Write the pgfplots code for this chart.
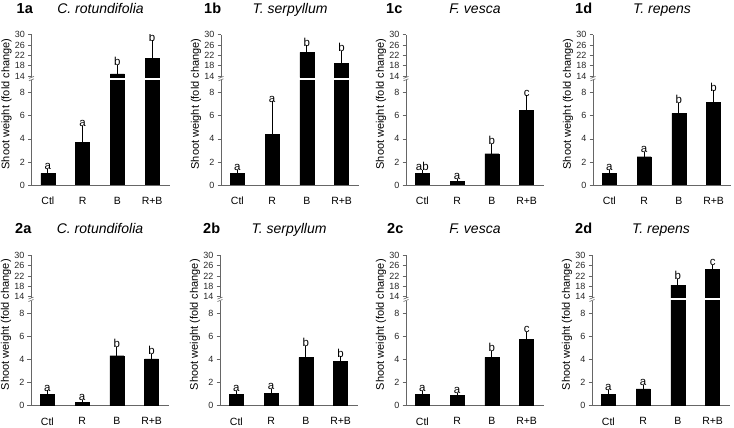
\documentclass[border=0pt]{standalone}
\usepackage{pgfplots}
\pgfplotsset{compat=1.18}
\usepackage{pgfplotstable}
\usepackage{fontspec}
\setmainfont{Liberation Sans}

\pgfplotstableread{
x y e lab
0 1.00 0.20 a
1 3.67 1.30 a
2 14.8 2.60 b
3 20.9 6.10 b
}\tabIa
\pgfplotstableread{
x y e lab
0 1.00 0.10 a
1 4.39 2.69 a
2 23.2 1.90 b
3 18.9 4.10 b
}\tabIb
\pgfplotstableread{
x y e lab
0 1.00 0.10 ab
1 0.29 0.05 a
2 2.71 0.70 b
3 6.50 1.10 c
}\tabIc
\pgfplotstableread{
x y e lab
0 1.00 0.10 a
1 2.45 0.21 a
2 6.21 0.72 b
3 7.17 0.86 b
}\tabId
\pgfplotstableread{
x y e lab
0 1.00 0.15 a
1 0.29 0.06 a
2 4.33 0.58 b
3 4.05 0.25 b
}\tabIIa
\pgfplotstableread{
x y e lab
0 1.00 0.10 a
1 1.07 0.23 a
2 4.19 0.80 b
3 3.85 0.25 b
}\tabIIb
\pgfplotstableread{
x y e lab
0 1.00 0.10 a
1 0.87 0.08 a
2 4.19 0.38 b
3 5.78 0.42 c
}\tabIIc
\pgfplotstableread{
x y e lab
0 1.00 0.20 a
1 1.45 0.20 a
2 18.5 1.60 b
3 24.7 0.90 c
}\tabIId

\pgfplotsset{
 panelbase/.style={scale only axis, width=138pt, xmin=-0.47, xmax=3.5,
   axis y line*=left, axis line style={-, black!60, line width=0.6pt},
   tick style={black!60, line width=0.6pt}, tick align=outside, major tick length=3.5pt,
   yticklabel style={font=\fontsize{9}{10}\selectfont, text=black!85, xshift=0.5pt},
   /pgf/number format/assume math mode=true, clip mode=individual, clip marker paths=true,
   enlargelimits=false},
 lowerax/.style={panelbase, height=105pt, ymin=0, ymax=9.1, ytick={0,2,4,6,8},
   axis x line*=bottom, xtick={0,1,2,3}, xticklabels={Ctl,R,B,R+B}, xtick style={draw=none},
   xticklabel style={font=\fontsize{10.5}{12}\selectfont, yshift=-5pt}},
 upperax/.style={panelbase, height=42.6pt, ymin=13.5, ymax=30, ytick={14,18,22,26,30},
   axis x line=none},
 barsty/.style={ybar, bar width=14pt, fill=black, draw=black,
   error bars/.cd, y dir=plus, y explicit,
   error bar style={black, line width=0.8pt},
   error mark options={black, mark size=2pt, line width=0.8pt}},
 lettersty/.style={draw=none, mark=none, nodes near coords, point meta=explicit symbolic,
   every node near coord/.append style={anchor=south, font=\fontsize{11.5}{13}\selectfont, inner sep=1pt, text=black}},
}
\tikzset{brk/.style={black!60, line width=0.6pt}}

% #1 axis x, #2 row y (x-axis), #3 table, #4 number, #5 species, #6 number offset
\newcommand{\panel}[6]{%
\begin{axis}[lowerax, at={(#1pt,#2pt)}]
 \addplot[barsty] table[x=x,y=y,y error=e]{#3};
 \addplot[lettersty, restrict y to domain=0:9.1] table[x=x,y expr=\thisrow{y}+\thisrow{e},meta=lab]{#3};
 \draw[brk] ([xshift=-2.5pt,yshift=-0.8pt]rel axis cs:0,1) -- ([xshift=2.5pt,yshift=1.2pt]rel axis cs:0,1);
 \draw[brk] ([xshift=-2.5pt,yshift=1.6pt]rel axis cs:0,1) -- ([xshift=2.5pt,yshift=3.6pt]rel axis cs:0,1);
\end{axis}
\begin{axis}[upperax, at={(#1pt,#2pt+107.7pt)}]
 \addplot[restrict y to domain=13.5:1000, barsty] table[x=x,y=y,y error=e]{#3};
 \addplot[lettersty, restrict y to domain=13.5:30] table[x=x,y expr=\thisrow{y}+\thisrow{e},meta=lab]{#3};
\end{axis}
\node[anchor=base west, font=\fontsize{14.5}{16}\selectfont\bfseries, inner sep=0pt] at (#1pt-#6pt, #2pt+171.7pt) {#4};
\node[anchor=base, font=\fontsize{14}{16}\selectfont\itshape, inner sep=0pt] at (#1pt+69pt, #2pt+171.7pt) {#5};
\node[rotate=90, font=\fontsize{11}{13}\selectfont, inner sep=0pt] at (#1pt-25pt, #2pt+81pt) {Shoot weight (fold change)};
}

\begin{document}
\begin{tikzpicture}
\useasboundingbox (0,0) rectangle (734pt,428pt);
\panel{31.5}{243}{\tabIa}{1a}{C. rotundifolia}{15}
\panel{221}{243}{\tabIb}{1b}{T. serpyllum}{17}
\panel{406}{243}{\tabIc}{1c}{F. vesca}{20}
\panel{593}{243}{\tabId}{1d}{T. repens}{18}
\panel{31}{22.3}{\tabIIa}{2a}{C. rotundifolia}{16}
\panel{220}{22.3}{\tabIIb}{2b}{T. serpyllum}{17}
\panel{406}{22.3}{\tabIIc}{2c}{F. vesca}{19}
\panel{592}{22.3}{\tabIId}{2d}{T. repens}{17}
\end{tikzpicture}
\end{document}
